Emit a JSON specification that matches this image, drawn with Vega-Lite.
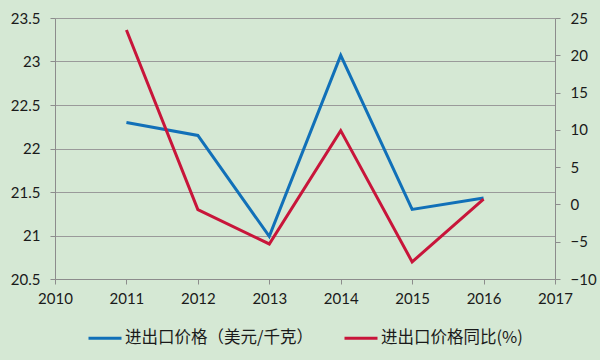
{
  "$schema": "https://vega.github.io/schema/vega-lite/v6.json",
  "width": 500,
  "height": 261,
  "autosize": {"type": "none"},
  "padding": {"left": 55, "top": 18, "right": 45, "bottom": 81},
  "background": "#d5e8d4",
  "config": {
    "view": {"stroke": null},
    "axis": {
      "labelFont": "Lato",
      "labelFontSize": 15,
      "labelColor": "#1a1a1a",
      "domainColor": "#8c8c8c",
      "tickColor": "#8c8c8c",
      "tickSize": 5,
      "titleFontSize": 0
    }
  },
  "data": {
    "values": [
      {"year": 2011, "series": "进出口价格（美元/千克）", "value": 22.3},
      {"year": 2012, "series": "进出口价格（美元/千克）", "value": 22.15},
      {"year": 2013, "series": "进出口价格（美元/千克）", "value": 20.99},
      {"year": 2014, "series": "进出口价格（美元/千克）", "value": 23.07},
      {"year": 2015, "series": "进出口价格（美元/千克）", "value": 21.3},
      {"year": 2016, "series": "进出口价格（美元/千克）", "value": 21.43},
      {"year": 2011, "series": "进出口价格同比(%)", "value": 23.4},
      {"year": 2012, "series": "进出口价格同比(%)", "value": -0.7},
      {"year": 2013, "series": "进出口价格同比(%)", "value": -5.3},
      {"year": 2014, "series": "进出口价格同比(%)", "value": 9.9},
      {"year": 2015, "series": "进出口价格同比(%)", "value": -7.7},
      {"year": 2016, "series": "进出口价格同比(%)", "value": 0.7}
    ]
  },
  "encoding": {
    "x": {
      "field": "year",
      "type": "quantitative",
      "scale": {"domain": [2010, 2017], "nice": false, "zero": false},
      "axis": {
        "title": null,
        "values": [2010, 2011, 2012, 2013, 2014, 2015, 2016, 2017],
        "format": "d",
        "grid": false,
        "labelPadding": 7,
        "labelFlush": false
      }
    },
    "color": {
      "field": "series",
      "type": "nominal",
      "scale": {
        "domain": ["进出口价格（美元/千克）", "进出口价格同比(%)"],
        "range": ["#1170b8", "#c8153a"]
      },
      "legend": {
        "title": null,
        "orient": "none",
        "direction": "horizontal",
        "legendX": 32,
        "legendY": 302,
        "symbolType": "stroke",
        "symbolSize": 1089,
        "symbolStrokeWidth": 3,
        "symbolOffset": 0,
        "labelOffset": 2,
        "labelFont": "Noto Sans CJK SC",
        "labelFontSize": 16.5,
        "labelColor": "#1a1a1a",
        "labelLimit": 400,
        "columnPadding": 25
      }
    }
  },
  "layer": [
    {
      "transform": [{"filter": "datum.series === '进出口价格（美元/千克）'"}],
      "mark": {"type": "line", "strokeWidth": 3},
      "encoding": {
        "y": {
          "field": "value",
          "type": "quantitative",
          "scale": {"domain": [20.5, 23.5], "nice": false, "zero": false},
          "axis": {
            "title": null,
            "orient": "left",
            "values": [20.5, 21, 21.5, 22, 22.5, 23, 23.5],
            "format": ".1~f",
            "grid": true,
            "gridColor": "#9a9a9a",
            "gridWidth": 1,
            "labelPadding": 10
          }
        }
      }
    },
    {
      "transform": [{"filter": "datum.series === '进出口价格同比(%)'"}],
      "mark": {"type": "line", "strokeWidth": 3},
      "encoding": {
        "y": {
          "field": "value",
          "type": "quantitative",
          "scale": {"domain": [-10, 25], "nice": false, "zero": false},
          "axis": {
            "title": null,
            "orient": "right",
            "values": [-10, -5, 0, 5, 10, 15, 20, 25],
            "grid": false,
            "labelPadding": 10
          }
        }
      }
    }
  ],
  "resolve": {"scale": {"y": "independent"}}
}
